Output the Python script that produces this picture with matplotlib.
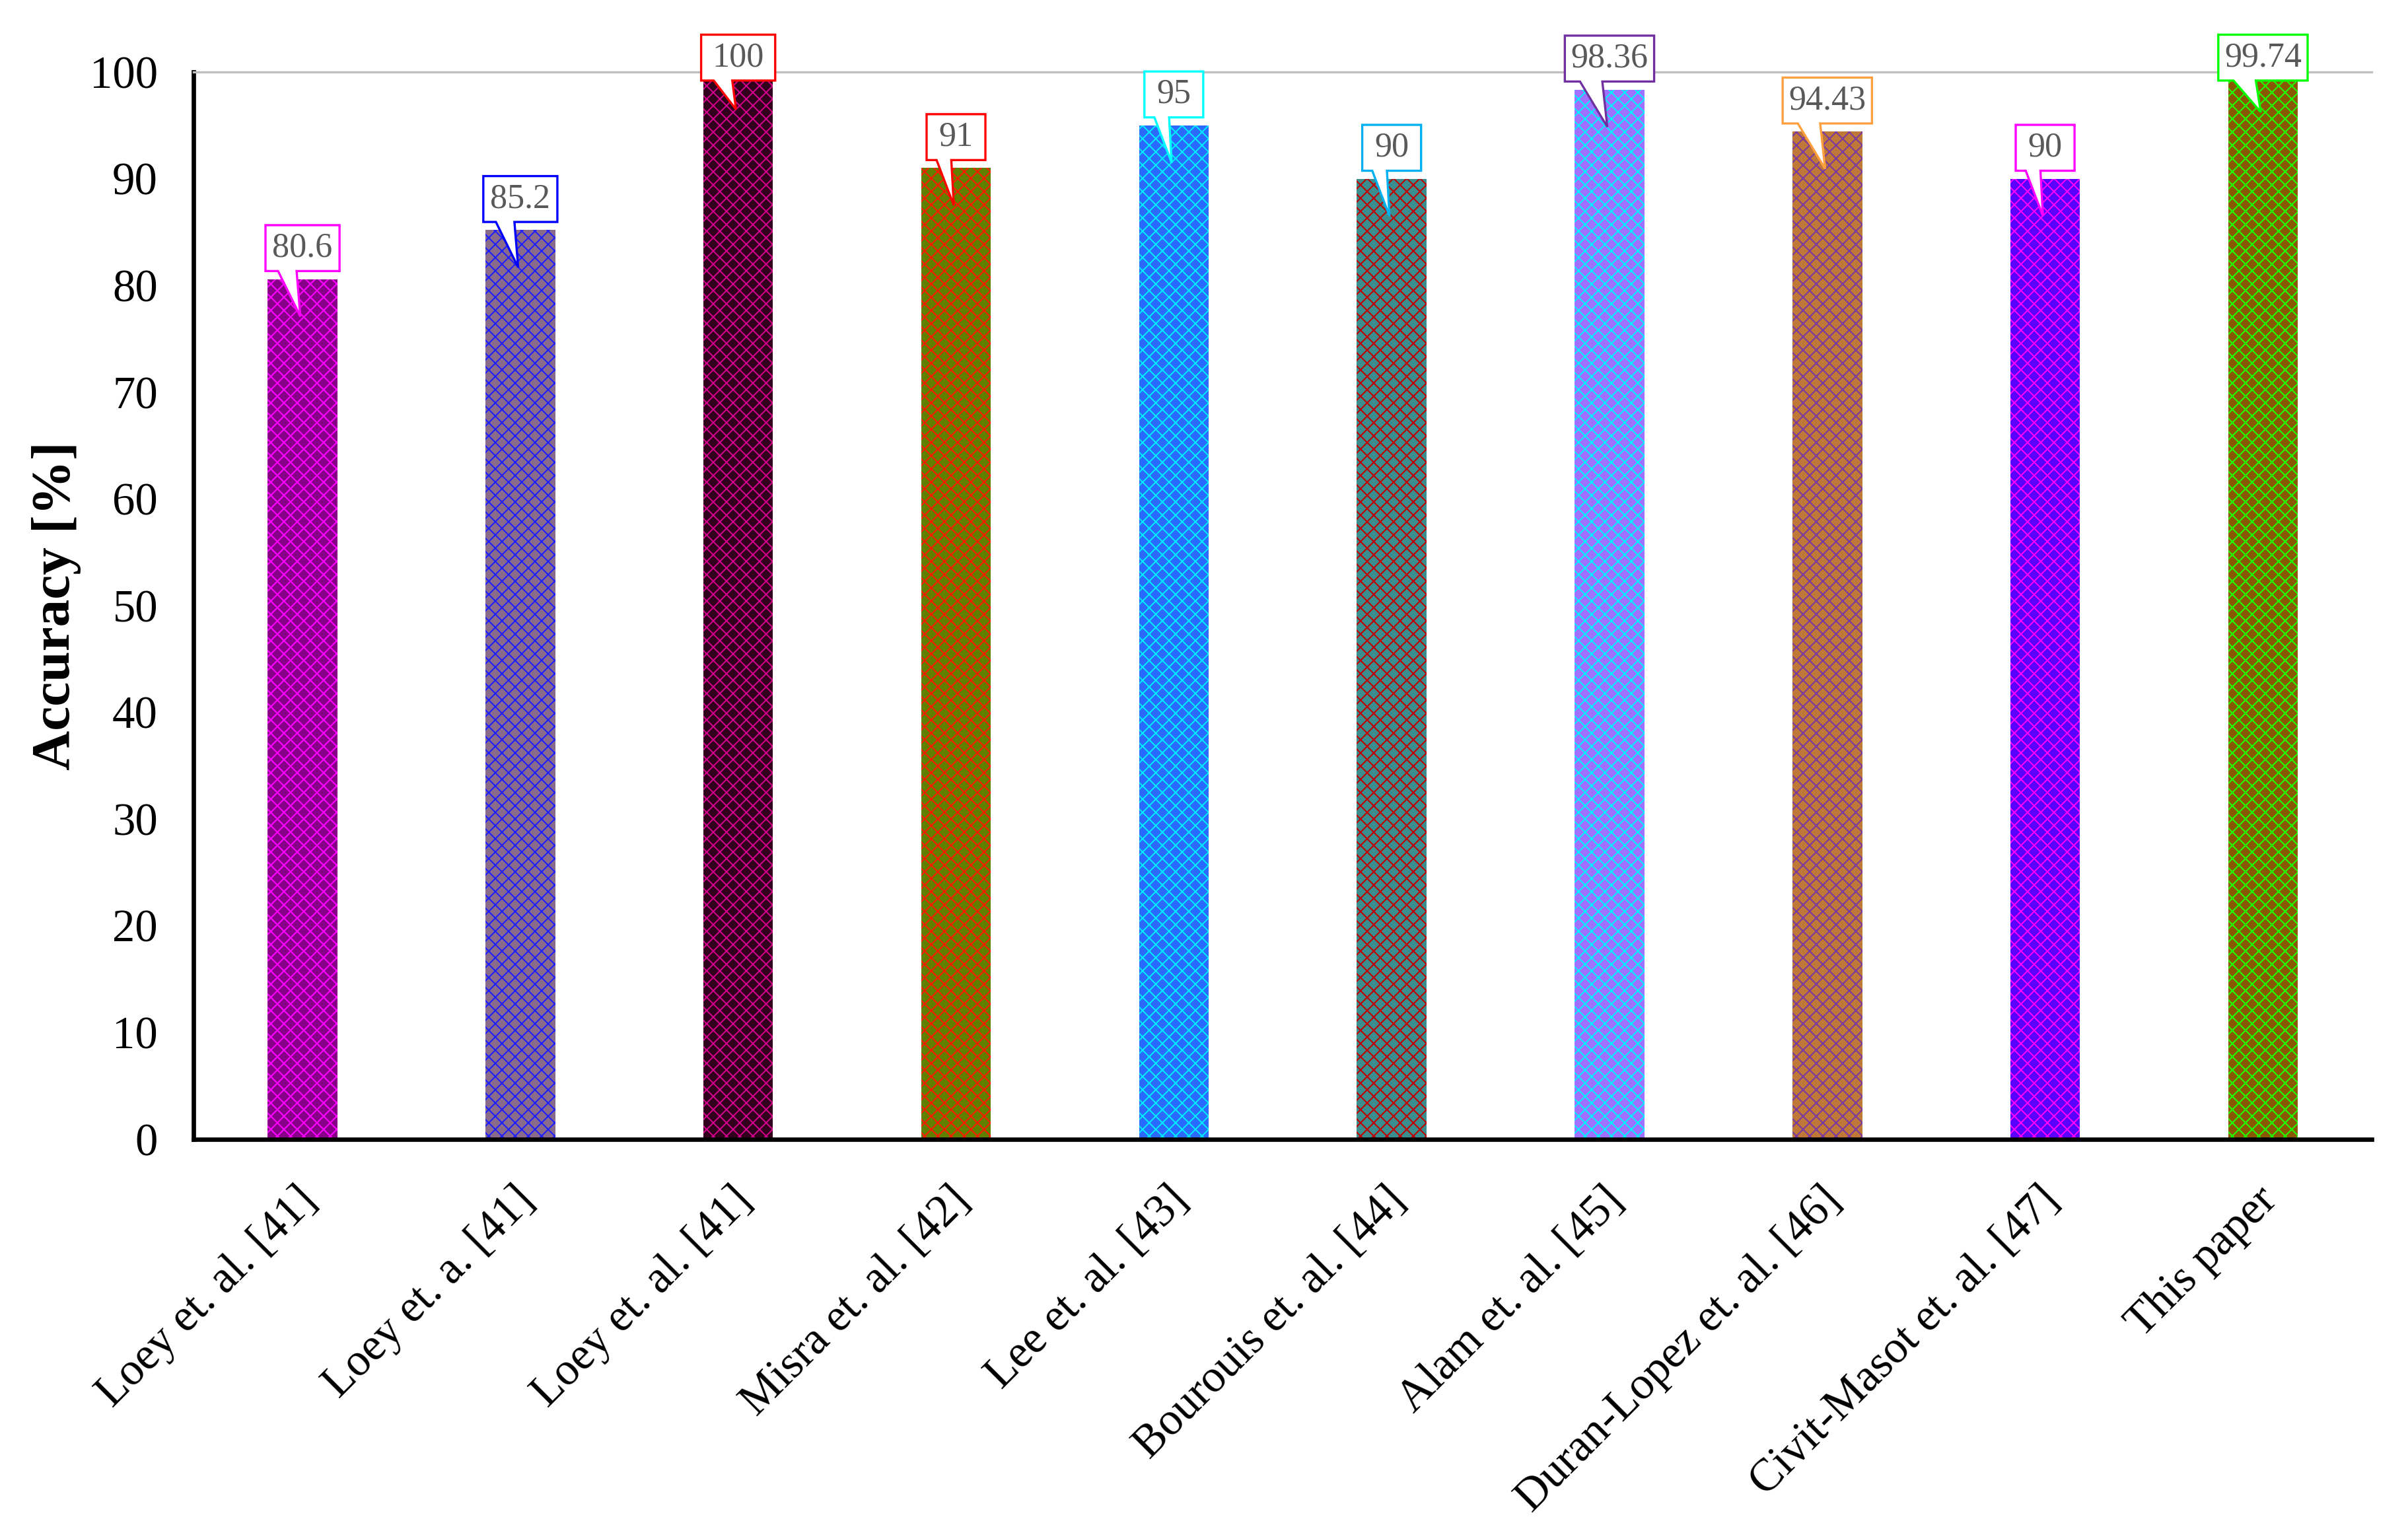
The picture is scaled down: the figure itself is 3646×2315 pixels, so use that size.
import matplotlib.pyplot as plt
from matplotlib.patches import Polygon
from matplotlib.transforms import ScaledTranslation

plt.rcParams['font.family'] = ['Liberation Serif', 'DejaVu Serif']
plt.rcParams['hatch.linewidth'] = 0.5

# data
studies = ['Loey et. al. [41]', 'Loey et. a. [41]', 'Loey et. al. [41]', 'Misra et. al. [42]',
           'Lee et. al. [43]', 'Bourouis et. al. [44]', 'Alam et. al. [45]',
           'Duran-Lopez et. al. [46]', 'Civit-Masot et. al. [47]', 'This paper']
accuracy = [80.6, 85.2, 100, 91, 95, 90, 98.36, 94.43, 90, 99.74]
labels = ['80.6', '85.2', '100', '91', '95', '90', '98.36', '94.43', '90', '99.74']

# pattern fill: background colour + foreground (hatch) colour, callout border colour
bg_colors = ['#880088', '#8a6a8a', '#30001c', '#628000', '#2a6aff', '#3a8e8e',
             '#a070ff', '#c07838', '#5a00ff', '#8a5800']
fg_colors = ['#ff00ff', '#2020ff', '#d0008a', '#ff1a00', '#00e8ff', '#c00000',
             '#00f0ff', '#7a3aa0', '#ff00ff', '#20ff00']
box_colors = ['#ff00ff', '#0000ff', '#ff0000', '#ff0000', '#00ffff', '#00b0f0',
              '#7030a0', '#ffa040', '#ff00ff', '#00ff00']

fig = plt.figure(figsize=(3646/300, 2315/300), dpi=300)
ax = fig.add_axes([0.0804, 0.2549, 0.9046, 0.698])

x = list(range(len(studies)))
bar_w = 0.32
for i in x:
    ax.bar(i, accuracy[i], width=bar_w, color=bg_colors[i], edgecolor=fg_colors[i],
           hatch='xxxxx', linewidth=0, zorder=2)

# callouts
box_h = 4.3
cap = 103.5
for i in x:
    v = accuracy[i]
    lab = labels[i]
    nd = sum(ch.isdigit() for ch in lab)
    w = 0.13 + 0.07*nd
    yb = min(v + 0.75, cap - box_h)
    yt = yb + box_h
    xl = i - w/2
    xr = i + w/2
    pts = [(xl, yb), (i - 0.33*w, yb), (i - 0.01, v - 3.5), (i - 0.08*w, yb),
           (xr, yb), (xr, yt), (xl, yt)]
    ax.add_patch(Polygon(pts, closed=True, facecolor='white', edgecolor=box_colors[i],
                         linewidth=0.8, zorder=4, clip_on=False))
    ax.text(i, (yb + yt)/2, lab, ha='center', va='center', fontsize=12.5,
            color='#595959', zorder=5, clip_on=False)

ax.set_xlim(-0.5, len(studies) - 0.5)
ax.set_ylim(0, 100)
ax.set_yticks(range(0, 101, 10))
ax.set_xticks(x)
ax.set_xticklabels(studies, rotation=45, ha='right', va='center', rotation_mode='anchor')
ax.tick_params(axis='both', length=0, labelsize=16.5, colors='black')
ax.tick_params(axis='y', pad=13)
ax.tick_params(axis='x', pad=20)
offset = ScaledTranslation(0.04, 0, fig.dpi_scale_trans)
for lbl in ax.get_xticklabels():
    lbl.set_transform(lbl.get_transform() + offset)

ax.set_ylabel('Accuracy [%]', fontsize=20, fontweight='bold', labelpad=3)

ax.spines['right'].set_visible(False)
ax.spines['top'].set_color('#bfbfbf')
ax.spines['top'].set_linewidth(0.8)
ax.spines['left'].set_linewidth(1.6)
ax.spines['bottom'].set_linewidth(1.6)

fig.savefig('out.png', dpi=300)
